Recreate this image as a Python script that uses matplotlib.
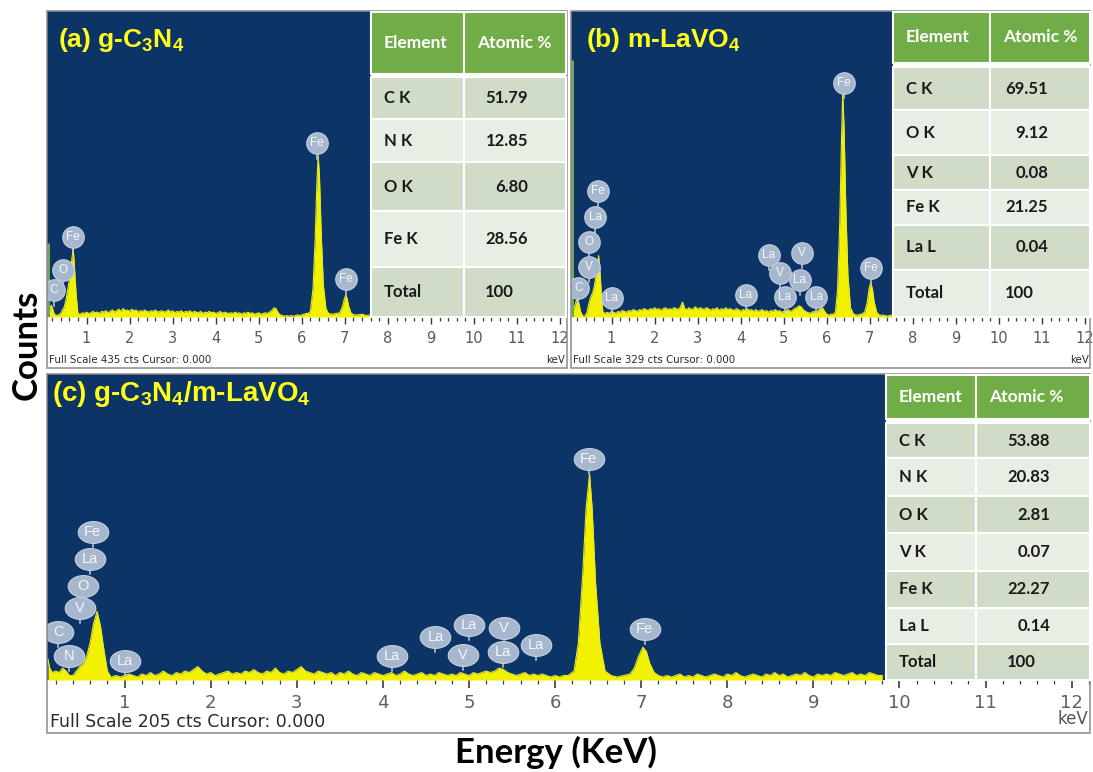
import numpy as np
import matplotlib
matplotlib.use('Agg')
import matplotlib.pyplot as plt
from matplotlib.patches import Rectangle
from matplotlib.path import Path
from matplotlib.ticker import MultipleLocator, FixedLocator

plt.rcParams['mathtext.fontset'] = 'custom'
plt.rcParams['mathtext.default'] = 'regular'

# ------------------------------------------------------------------ data
tick_keV = [1, 2, 3, 4, 5, 6, 7, 8, 9, 10, 11, 12]
tick_labels = [str(t) for t in tick_keV]
bg_step = 0.05

# (a) g-C3N4
a_title = r'(a) g-C$_3$N$_4$'
a_full_scale = 435
a_zero_cts = 105
a_low_keV = [0.10, 0.14, 0.18, 0.21, 0.25, 0.30, 0.35, 0.40, 0.44, 0.48, 0.52, 0.58, 0.64, 0.69, 0.72, 0.76, 0.80]
a_low_cts = [4, 10, 17, 12, 4, 2, 3, 5, 10, 14, 24, 45, 72, 98, 70, 30, 5]
a_bg_start = 0.85
a_bg_cts = [4, 6, 5, 7, 5, 6, 8, 6, 7, 5,
            8, 7, 9, 6, 8, 10, 7, 9, 11, 8,
            12, 9, 10, 8, 11, 9, 10, 7, 9, 8,
            10, 8, 7, 9, 8, 10, 7, 8, 9, 7,
            8, 10, 7, 9, 6, 8, 7, 9, 6, 8,
            7, 9, 6, 8, 7, 6, 8, 5, 7, 6,
            8, 6, 7, 5, 6, 8, 5, 7, 6, 5,
            6, 5, 7, 5, 6, 4, 6, 5, 7, 5,
            6, 4, 5, 6, 4, 5, 6, 5, 7, 9,
            13, 12, 6, 3, 2, 1, 2, 1, 2, 1,
            2, 3, 2, 3, 4, 5]
a_fe_keV = [6.15, 6.20, 6.26, 6.31, 6.35, 6.38, 6.41, 6.45, 6.50, 6.56, 6.62, 6.70, 6.80,
            6.88, 6.94, 6.99, 7.02, 7.05, 7.09, 7.14, 7.20, 7.30, 7.40, 7.50, 7.60]
a_fe_cts = [5, 8, 40, 110, 190, 230, 200, 120, 45, 12, 5, 4, 5,
            6, 14, 26, 31, 27, 15, 6, 3, 3, 4, 2, 3]
a_lbl_names = ['C', 'O', 'Fe', 'Fe', 'Fe']
a_lbl_keV = [0.24, 0.46, 0.68, 6.35, 7.03]
a_lbl_cts = [38, 67, 114, 247, 54]
a_elements = ['C K', 'N K', 'O K', 'Fe K', 'Total']
a_atomic = ['51.79', '12.85', '6.80', '28.56', '100']

# (b) m-LaVO4
b_title = r'(b) m-LaVO$_4$'
b_full_scale = 329
b_zero_cts = 276
b_low_keV = [0.08, 0.12, 0.16, 0.20, 0.24, 0.28, 0.33, 0.38, 0.43, 0.47, 0.52, 0.56, 0.60, 0.65, 0.70, 0.73, 0.77, 0.80]
b_low_cts = [3, 8, 14, 21, 15, 6, 1, 1, 5, 14, 22, 26, 33, 48, 66, 50, 20, 5]
b_bg_start = 0.85
b_bg_cts = [4, 5, 4, 6, 5, 4, 6, 5, 7, 6,
            5, 7, 6, 8, 7, 6, 8, 7, 9, 8,
            7, 9, 8, 10, 8, 9, 7, 9, 10, 8,
            9, 8, 10, 9, 8, 11, 16, 9, 8, 10,
            8, 9, 11, 8, 10, 9, 8, 10, 9, 7,
            9, 8, 10, 7, 9, 8, 10, 8, 9, 8,
            7, 9, 8, 6, 8, 7, 9, 7, 8, 6,
            8, 6, 7, 8, 6, 7, 5, 7, 6, 8,
            6, 7, 5, 6, 7, 8, 6, 7, 9, 10,
            12, 11, 8, 6, 5, 4, 5, 6, 5, 7,
            9, 10, 6, 3, 2, 3]
b_fe_keV = [6.15, 6.20, 6.25, 6.30, 6.34, 6.37, 6.40, 6.44, 6.49, 6.55, 6.62, 6.70, 6.80,
            6.88, 6.94, 6.98, 7.02, 7.06, 7.10, 7.16, 7.22, 7.30, 7.40, 7.50]
b_fe_cts = [3, 5, 30, 100, 190, 241, 205, 120, 45, 10, 3, 2, 3,
            5, 16, 30, 37, 30, 16, 5, 2, 2, 1, 2]
b_lbl_names = ['C', 'V', 'O', 'La', 'Fe', 'La', 'La', 'La', 'V', 'V', 'La', 'La', 'La', 'Fe', 'Fe']
b_lbl_keV = [0.23, 0.48, 0.48, 0.62, 0.69, 1.01, 4.12, 4.65, 4.92, 5.42, 5.37, 5.02, 5.75, 6.39, 7.02]
b_lbl_cts = [31, 54, 81, 107, 135, 20, 24, 67, 47, 69, 40, 21, 21, 252, 53]
b_elements = ['C K', 'O K', 'V K', 'Fe K', 'La L', 'Total']
b_atomic = ['69.51', '9.12', '0.08', '21.25', '0.04', '100']

# (c) g-C3N4/m-LaVO4
c_title = r'(c) g-C$_3$N$_4$/m-LaVO$_4$'
c_full_scale = 205
c_low_keV = [0.11, 0.13, 0.16, 0.20, 0.24, 0.28, 0.32, 0.36, 0.40, 0.44, 0.48, 0.52, 0.56, 0.60,
             0.64, 0.68, 0.72, 0.76, 0.80, 0.84]
c_low_cts = [14, 8, 5, 6, 5, 8, 6, 3, 3, 6, 9, 11, 16, 25, 38, 46, 36, 20, 6, 2]
c_bg1_start = 0.85
c_bg1_cts = [2, 3, 2, 3, 4, 3, 2, 4, 3, 5,
             3, 4, 6, 4, 3, 5, 4, 6, 5, 7,
             9, 6, 4, 5, 3, 4, 5, 6, 4, 5,
             4, 6, 5, 7, 5, 4, 6, 5, 8, 5,
             4, 6, 5, 7, 9, 6, 5, 4, 6, 5,
             4, 5, 3, 5, 4, 6, 4, 3, 5, 4,
             3, 5, 4, 3, 4, 5, 3, 4, 6, 4,
             3, 4, 5, 3, 4, 3, 5, 4, 3, 4,
             3, 5, 4, 3, 5, 4, 5, 6, 5, 6,
             8, 7, 5, 4, 3, 4, 5, 3, 4, 3,
             4, 3, 2, 3, 2, 3]
c_fe_keV = [6.15, 6.22, 6.27, 6.32, 6.36, 6.40, 6.43, 6.47, 6.52, 6.58, 6.65, 6.72, 6.80,
            6.87, 6.92, 6.97, 7.02, 7.06, 7.10, 7.15, 7.20, 7.25]
c_fe_cts = [3, 6, 25, 70, 115, 138, 115, 65, 25, 6, 3, 2, 3,
            4, 8, 16, 22, 19, 11, 5, 3, 2]
c_bg2_start = 7.30
c_bg2_cts = [3, 2, 3, 4, 2, 3, 2, 4, 3, 2,
             3, 4, 3, 2, 4, 3, 5, 3, 2, 3,
             4, 3, 2, 4, 3, 5, 3, 4, 2, 3,
             4, 3, 5, 3, 2, 4, 3, 4, 3, 5,
             4, 3, 4, 5, 3, 4, 3, 5, 4, 3,
             3]
c_lbl_names = ['Fe', 'La', 'O', 'V', 'C', 'N', 'La', 'La', 'La', 'La', 'V', 'V', 'La', 'La', 'Fe', 'Fe']
c_lbl_keV = [0.63, 0.60, 0.52, 0.48, 0.23, 0.35, 1.00, 4.10, 4.61, 5.00, 5.41, 4.93, 5.39, 5.78, 6.39, 7.04]
c_lbl_cts = [99, 81, 63, 48, 32, 16, 13, 16, 29, 37, 35, 17, 19, 23.5, 148, 34]
c_elements = ['C K', 'N K', 'O K', 'V K', 'Fe K', 'La L', 'Total']
c_atomic = ['53.88', '20.83', '2.81', '0.07', '22.27', '0.14', '100']

# ------------------------------------------------------------------ style
W, H = 1093, 772
NAVY = '#0c3466'
YEL = '#f2f200'
GREEN = '#70ad47'
ROW_D = '#d1dcc8'
ROW_L = '#e8eee4'
LBL_FC = '#a7b7cd'
ZERO_GREEN = '#78a458'
BORDER = '#8a8a8a'
NARROW = ['Liberation Sans Narrow', 'DejaVu Sans']
TABFONT = ['Lato', 'DejaVu Sans']

fig = plt.figure(figsize=(W / 100, H / 100), dpi=100)
fig.patch.set_facecolor('white')


def rect(l, t, r, b):
    return [l / W, 1 - b / H, (r - l) / W, (b - t) / H]


def bg_energies(start, counts):
    return list(np.round(start + bg_step * np.arange(len(counts)), 3))


# overlay in pixel coordinates for borders, tables and captions
ov = fig.add_axes([0, 0, 1, 1], zorder=10)
ov.set_xlim(0, W)
ov.set_ylim(H, 0)
ov.axis('off')
ov.patch.set_visible(False)

circle_path = Path.unit_circle()
ellipse_path = Path(circle_path.vertices * np.array([1.4, 1.0]), circle_path.codes)


def draw_panel(box, x0px, pxkev, full, E, C, zero_cts, lbl_names, lbl_keV, lbl_cts,
               title, title_xy, title_fs, wide):
    l, t, r, b, bottom = box
    ax = fig.add_axes(rect(l, t, r, b), zorder=1)
    ax.set_facecolor(NAVY)
    xmin = (l - x0px) / pxkev
    xmax = (r - x0px) / pxkev
    ax.set_xlim(xmin, xmax)
    ax.set_ylim(0, full)
    for s in ax.spines.values():
        s.set_visible(False)
    ax.set_yticks([])
    ax.xaxis.set_major_locator(FixedLocator(tick_keV))
    ax.set_xticklabels(tick_labels)
    ax.xaxis.set_minor_locator(MultipleLocator(0.2))
    if wide:
        ax.tick_params(axis='x', which='major', direction='out', length=6, width=1.2,
                       color='#3a3a3a', labelcolor='#606060', labelsize=13, pad=4)
        for lab in ax.get_xticklabels():
            lab.set_fontfamily(['DejaVu Sans'])
    else:
        ax.tick_params(axis='x', which='major', direction='out', length=5, width=1,
                       color='#3a3a3a', labelcolor='#5a5a5a', labelsize=10.5, pad=5)
        for lab in ax.get_xticklabels():
            lab.set_fontfamily(NARROW)
    ax.tick_params(axis='x', which='minor', direction='out', length=3, width=0.9, color='#3a3a3a')

    ax.fill_between(E, C, 0, color=YEL, lw=0, zorder=2)
    ax.plot(E, C, color='#e8e82a', lw=0.8, zorder=3)
    if zero_cts:
        px = (xmax - xmin) / (r - l)
        ax.vlines(xmin + 1.2 * px, 0, zero_cts, color=ZERO_GREEN, lw=2.2, zorder=3)

    cpp = full / (b - t)  # counts per pixel
    if wide:
        marker, ms, half_h, fs = ellipse_path, 22, 10, 10.5
    else:
        marker, ms, half_h, fs = 'o', 15.5, 10.5, 8.5
    for name, xk, yc in zip(lbl_names, lbl_keV, lbl_cts):
        ax.plot([xk, xk], [yc - half_h * cpp, yc - (half_h + 5) * cpp], color='#c3ccdb', lw=1.1, zorder=4)
        ax.plot([xk], [yc], marker=marker, ms=ms, mfc=LBL_FC, mec='#c6d0de', mew=0.8, zorder=5)
        ax.text(xk, yc, name, ha='center', va='center', color='#f4f7fb', fontsize=fs,
                family=['Liberation Sans', 'DejaVu Sans'], zorder=6)

    ax.text(title_xy[0], title_xy[1], title, transform=ov.transData, color='#ffff1a',
            fontsize=title_fs, fontweight='bold', family=['Liberation Sans', 'DejaVu Sans'],
            ha='left', va='center', zorder=7)
    ov.add_patch(Rectangle((l, t), r - l, bottom - t, fill=False, ec=BORDER, lw=1.1))
    return ax


def draw_table(left, split, right, head_top, head_bot, row_edges, elements, values,
               val_right, total_left):
    ov.add_patch(Rectangle((left, head_top), right - left, row_edges[-1] - head_top,
                           fc='white', ec='none'))
    for x0, x1, txt in [(left, split, 'Element'), (split, right, 'Atomic %')]:
        ov.add_patch(Rectangle((x0, head_top), x1 - x0, head_bot - head_top, fc=GREEN,
                               ec='white', lw=1.5))
        ov.text(x0 + 13, (head_top + head_bot) / 2, txt, color='white', fontsize=12.5,
                fontweight='bold', family=TABFONT, ha='left', va='center')
    for i, (el, val) in enumerate(zip(elements, values)):
        y0, y1 = row_edges[i], row_edges[i + 1]
        fc = ROW_D if i % 2 == 0 else ROW_L
        ov.add_patch(Rectangle((left, y0), split - left, y1 - y0, fc=fc, ec='white', lw=1.5))
        ov.add_patch(Rectangle((split, y0), right - split, y1 - y0, fc=fc, ec='white', lw=1.5))
        ym = (y0 + y1) / 2
        ov.text(left + 13, ym, el, color='#1a1a1a', fontsize=12, fontweight='bold',
                family=TABFONT, ha='left', va='center')
        if el == 'Total':
            ov.text(split + total_left, ym, val, color='#1a1a1a', fontsize=12,
                    fontweight='bold', family=TABFONT, ha='left', va='center')
        else:
            ov.text(split + val_right, ym, val, color='#1a1a1a', fontsize=12,
                    fontweight='bold', family=TABFONT, ha='right', va='center')


# ---- panel (a)
aE = a_low_keV + bg_energies(a_bg_start, a_bg_cts) + a_fe_keV
aC = a_low_cts + a_bg_cts + a_fe_cts
draw_panel((47, 11, 567, 317, 368), 43.5, 43.05, a_full_scale, aE, aC, a_zero_cts,
           a_lbl_names, a_lbl_keV, a_lbl_cts, a_title, (58, 40), 19, False)
draw_table(371, 464, 566, 12, 74, [77, 119, 162, 211, 267, 317], a_elements, a_atomic, 64, 21)
ov.text(49, 360, f'Full Scale {a_full_scale} cts Cursor: 0.000', fontsize=7.4, color='#2a2a2a',
        family=NARROW, ha='left', va='center')
ov.text(565, 360, 'keV', fontsize=7.4, color='#2a2a2a', family=NARROW, ha='right', va='center')

# ---- panel (b)
bE = b_low_keV + bg_energies(b_bg_start, b_bg_cts) + b_fe_keV
bC = b_low_cts + b_bg_cts + b_fe_cts
draw_panel((571, 11, 1090, 317, 368), 568.5, 43.05, b_full_scale, bE, bC, b_zero_cts,
           b_lbl_names, b_lbl_keV, b_lbl_cts, b_title, (586, 40), 19, False)
draw_table(893, 990, 1090, 12, 63, [67, 110, 155, 190, 225, 270, 317], b_elements, b_atomic, 58, 15)
ov.text(573, 360, f'Full Scale {b_full_scale} cts Cursor: 0.000', fontsize=7.4, color='#2a2a2a',
        family=NARROW, ha='left', va='center')
ov.text(1089, 360, 'keV', fontsize=7.4, color='#2a2a2a', family=NARROW, ha='right', va='center')

# ---- panel (c)
cE = c_low_keV + bg_energies(c_bg1_start, c_bg1_cts) + c_fe_keV + bg_energies(c_bg2_start, c_bg2_cts)
cC = c_low_cts + c_bg1_cts + c_fe_cts + c_bg2_cts
draw_panel((47, 374, 1090, 680, 733), 38.5, 86.1, c_full_scale, cE, cC, 0,
           c_lbl_names, c_lbl_keV, c_lbl_cts, c_title, (52, 394), 20, True)
draw_table(886, 976, 1090, 375, 419, [423, 458, 496, 533, 571, 608, 644, 680],
           c_elements, c_atomic, 74, 31)
ov.text(50, 722, f'Full Scale {c_full_scale} cts Cursor: 0.000', fontsize=12.5, color='#2a2a2a',
        family=['DejaVu Sans'], ha='left', va='center')
ov.text(1088, 719, 'keV', fontsize=12, color='#555555', family=['DejaVu Sans'],
        ha='right', va='center')

# ---- shared axis captions
ov.text(27, 345, 'Counts', rotation=90, fontsize=25, fontweight='bold', family=TABFONT,
        color='black', ha='center', va='center')
ov.text(556, 752, 'Energy (KeV)', fontsize=25, fontweight='bold', family=TABFONT,
        color='black', ha='center', va='center')

fig.savefig('out.png', dpi=100, facecolor='white')
